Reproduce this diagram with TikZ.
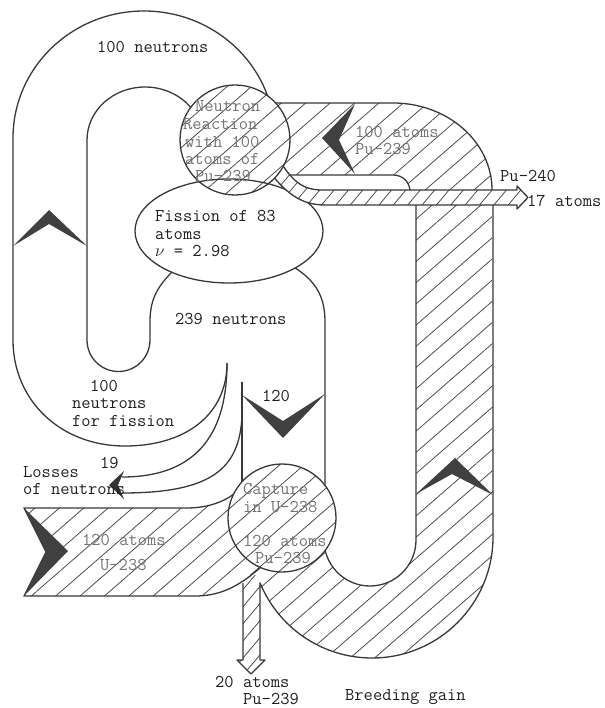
\documentclass[tikz,border=0pt]{standalone}
\usepackage{fontspec}
\usetikzlibrary{patterns.meta}
\begin{document}
\begin{tikzpicture}[x=1pt,y=-1pt,
  ln/.style={draw=black!78, line width=1.3pt, line join=round},
  hatchA/.style={pattern={Lines[angle=41,distance=16pt,line width=0.8pt]}, pattern color=black!70},
  hatchB/.style={pattern={Lines[angle=50,distance=11pt,line width=0.8pt]}, pattern color=black!70},
  chev/.style={fill=black!75},
  lbl/.style={font=\ttfamily\fontsize{18}{19}\selectfont\addfontfeatures{FakeBold=0.8}, inner sep=0pt, anchor=base west, text=black!88},
  glbl/.style={lbl, text=black!55}]
\useasboundingbox (0,0) rectangle (604,708);

% ---- white neutron loops
\draw[ln] (13,340) -- (13,138) arc[start angle=180,end angle=345,x radius=131,y radius=127];
\draw[ln] (13,340) .. controls (13,400) and (60,446) .. (125,446) .. controls (185,446) and (227,415) .. (227,363);
\draw[ln] (178,266) .. controls (158,285) and (150,298) .. (150,322) -- (150,340) arc[start angle=0,end angle=180,radius=31.5] -- (87,140) arc[start angle=180,end angle=330,x radius=58,y radius=53];
\draw[ln] (285,262) .. controls (315,278) and (325,295) .. (325,322) -- (325,492);
\draw[ln] (242,382) -- (242,492);
% losses arrow
\draw[ln] (227,363) .. controls (227,430) and (200,477) .. (122,477);
\draw[ln] (242,415) .. controls (240,470) and (210,493) .. (122,493);
\fill[black!80] (124,471) -- (109,485) -- (124,499) -- (118,485) -- cycle;

% ---- fission ellipse
\draw[ln, fill=white] (229,231) ellipse[x radius=94, y radius=52];

% ---- hatched regions
\path[hatchA] (270,103) -- (393,103) arc[start angle=270,end angle=360,x radius=99,y radius=87] -- (493,537) arc[start angle=0,end angle=157.7,radius=121] -- (282,519) -- (324.2,544) arc[start angle=175,end angle=0,radius=46] -- (416,205) -- (325,205) .. controls (300,205) and (285,192) .. (268,170) -- cycle;
\path[fill=white] (279,160) .. controls (291,178) and (300,190) .. (322,190) -- (517,190) -- (517,186) -- (528,197.5) -- (517,209) -- (517,205) -- (325,205) .. controls (300,205) and (285,192) .. (268,170) -- cycle;
\path[hatchB] (279,160) .. controls (291,178) and (300,190) .. (322,190) -- (517,190) -- (517,186) -- (528,197.5) -- (517,209) -- (517,205) -- (325,205) .. controls (300,205) and (285,192) .. (268,170) -- cycle;
\fill[white] (289,175) -- (393,175) .. controls (403,175) and (409,182) .. (410,190) -- (322,190) .. controls (307,190) and (297,185) .. (289,175) -- cycle;
\path[hatchA] (24,508) -- (187,508) .. controls (205,508) and (222,503) .. (234,494) -- (270,530) -- (262,566) .. controls (238,588) and (218,596) .. (195,596) -- (24,596) -- (46,552) -- cycle;
\path[fill=white] (243,575) -- (243,660) -- (237,660) -- (251,674) -- (265,660) -- (260,660) -- (260,575) -- cycle;
\path[hatchB] (243,575) -- (243,660) -- (237,660) -- (251,674) -- (265,660) -- (260,660) -- (260,575) -- cycle;

% ---- outlines of hatched flows
\draw[ln] (270,103) -- (393,103) arc[start angle=270,end angle=360,x radius=99,y radius=87];
\draw[ln] (279,160) .. controls (291,178) and (300,190) .. (322,190) -- (517,190) -- (517,186) -- (528,197.5) -- (517,209) -- (517,205) -- (325,205) .. controls (300,205) and (285,192) .. (268,170);
\draw[ln] (289,175) -- (393,175) .. controls (403,175) and (409,182) .. (410,190);
\draw[ln] (416,205) -- (416,540) arc[start angle=0,end angle=175,radius=46];
\draw[ln] (493,205) -- (493,537) arc[start angle=0,end angle=157.7,radius=121] -- (260,660) -- (265,660) -- (251,674) -- (237,660) -- (243,660) -- (243,583);
\draw[ln] (262,566) .. controls (238,588) and (218,596) .. (195,596) -- (24,596) -- (46,552) -- (24,508) -- (187,508) .. controls (205,508) and (222,503) .. (234,494);

% ---- neutron reaction circle
\path[fill=white] (235,140) circle[radius=55];
\path[hatchA] (235,140) circle[radius=55];
\draw[ln] (235,140) circle[radius=55];
\begin{scope}
\clip (235,140) circle[radius=55];
\draw[ln] (229,231) ellipse[x radius=94, y radius=52];
\end{scope}

% ---- capture circle
\path[fill=white] (282,518) circle[radius=54];
\path[hatchA] (282,518) circle[radius=54];
\draw[ln] (282,518) circle[radius=54];

% ---- chevrons
\fill[chev] (242,395) -- (283,421) -- (325,394) -- (283,438) -- cycle;
\fill[chev] (13,246) -- (49,224) -- (87,246) -- (49,210) -- cycle;
\fill[chev] (355,104) -- (322,138) -- (355,174) -- (339,140) -- cycle;
\fill[chev] (416,494) -- (455,458) -- (493,495) -- (452,474) -- cycle;
\fill[chev] (24,508) -- (68,551) -- (24,596) -- (46,552) -- cycle;

% ---- labels
\node[lbl] (tA) at (97,53) {100 neutrons};
\node[glbl] (c1) at (195,112) {Neutron};
\node[glbl] (c2) at (183,130) {Reaction};
\node[glbl] (c3) at (185,148) {with 100};
\node[glbl] (c4) at (185,165) {atoms of};
\node[glbl] (c5) at (195,182) {Pu-239};
\node[lbl] (f1) at (155,222) {Fission of 83};
\node[lbl] (f2) at (155,240) {atoms};
\node[lbl] (f3) at (155,257) {$\nu$ = 2.98};
\node[lbl] (tB) at (175,324) {239 neutrons};
\node[lbl] (u1) at (90,391) {100};
\node[lbl] (u2) at (72,408) {neutrons};
\node[lbl] (u3) at (72,426) {for fission};
\node[lbl] (tC) at (262,401) {120};
\node[lbl] (tD) at (100,468) {19};
\node[lbl] (l1) at (23,477) {Losses};
\node[lbl] (l2) at (23,494) {of neutrons};
\node[glbl] (a1) at (82,545) {120 atoms};
\node[glbl] (a2) at (100,570) {U-238};
\node[glbl] (p1) at (243,494) {Capture};
\node[glbl] (p2) at (243,512) {in U-238};
\node[glbl] (p3) at (243,546) {120 atoms};
\node[glbl] (p4) at (255,563) {Pu-239};
\node[glbl] (b1) at (355,138) {100 atoms};
\node[glbl] (b2) at (355,155) {Pu-239};
\node[lbl] (s1) at (500,182) {Pu-240};
\node[lbl] (s2) at (527,207) {17 atoms};
\node[lbl] (d1) at (215,687) {20 atoms};
\node[lbl] (d2) at (243,704) {Pu-239};
\node[lbl] (g1) at (345,700) {Breeding gain};
\end{tikzpicture}
\end{document}
